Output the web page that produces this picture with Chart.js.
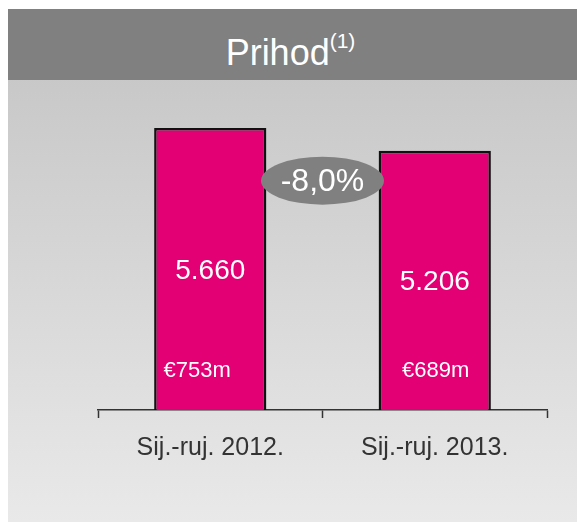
<!DOCTYPE html>
<html>
<head>
<meta charset="utf-8">
<script src="https://cdn.jsdelivr.net/npm/chart.js@4.4.0/dist/chart.umd.min.js"></script>
<style>
  html, body { margin: 0; padding: 0; background: #fff; }
  body { width: 577px; height: 522px; position: relative; overflow: hidden; font-family: "Liberation Sans", Arial, sans-serif; }
  .panel { position: absolute; left: 8px; top: 9px; right: 0; bottom: 0; background: linear-gradient(#c3c3c3, #e9e9e9); }
  .header { position: absolute; left: 0; top: 0; right: 0; height: 71px; background: #808080; color: #fff; text-align: center; }
  .header span { display: inline-block; font-size: 36px; line-height: 71px; margin-left: -4px; }
  .header sup { font-size: 21px; position: relative; top: -4px; }
  #chart { position: absolute; left: 0; top: 0; }
</style>
</head>
<body>
<div class="panel"><div class="header"><span>Prihod<sup>(1)</sup></span></div></div>
<canvas id="chart" width="577" height="522"></canvas>
<script>
// data
const categories = ['Sij.-ruj. 2012.', 'Sij.-ruj. 2013.'];
const revenue = [5660, 5206];
const revenueLabels = ['5.660', '5.206'];
const ebitdaLabels = ['€753m', '€689m'];
const changeLabel = '-8,0%';
const yMax = 6625;

const FONT = '"Liberation Sans", Arial, sans-serif';

const overlay = {
    id: 'overlay',
    afterDatasetsDraw(chart) {
        const ctx = chart.ctx;
        const bars = chart.getDatasetMeta(0).data;
        const shift = [-13, 1];
        ctx.save();
        ctx.fillStyle = '#fff';
        ctx.textAlign = 'center';
        ctx.textBaseline = 'middle';
        bars.forEach((bar, i) => {
            ctx.font = '28px ' + FONT;
            ctx.fillText(revenueLabels[i], bar.x, (bar.y + bar.base) / 2 + 2);
            ctx.font = '22px ' + FONT;
            ctx.fillText(ebitdaLabels[i], bar.x + shift[i], bar.base - 39);
        });

        // change bubble between the bars
        const cx = (bars[0].x + bars[0].width / 2 + bars[1].x - bars[1].width / 2) / 2;
        const cy = bars[1].y + 30;
        ctx.fillStyle = '#808080';
        ctx.beginPath();
        ctx.ellipse(cx, cy, 61.5, 24, 0, 0, Math.PI * 2);
        ctx.fill();
        ctx.fillStyle = '#fff';
        ctx.font = '32px ' + FONT;
        ctx.fillText(changeLabel, cx, cy + 1);
        ctx.restore();
    }
};

new Chart(document.getElementById('chart'), {
    type: 'bar',
    data: {
        labels: categories,
        datasets: [{
            data: revenue,
            backgroundColor: '#e20074',
            borderColor: '#111',
            borderWidth: 2.5,
            barPercentage: 0.5,
            categoryPercentage: 1.0
        }]
    },
    plugins: [overlay],
    options: {
        responsive: false,
        animation: false,
        layout: { padding: { left: 98, right: 30, top: 80, bottom: 0 } },
        plugins: { legend: { display: false }, tooltip: { enabled: false } },
        scales: {
            x: {
                afterFit: (scale) => { scale.height = 112; },
                border: { display: true, color: '#333', width: 1.5 },
                grid: { display: true, drawOnChartArea: false, offset: true, tickLength: 8, color: '#333', tickWidth: 1.5 },
                ticks: { color: '#333', font: { family: FONT, size: 25 }, padding: 15 }
            },
            y: { display: false, min: 0, max: yMax }
        }
    }
});
</script>
</body>
</html>
